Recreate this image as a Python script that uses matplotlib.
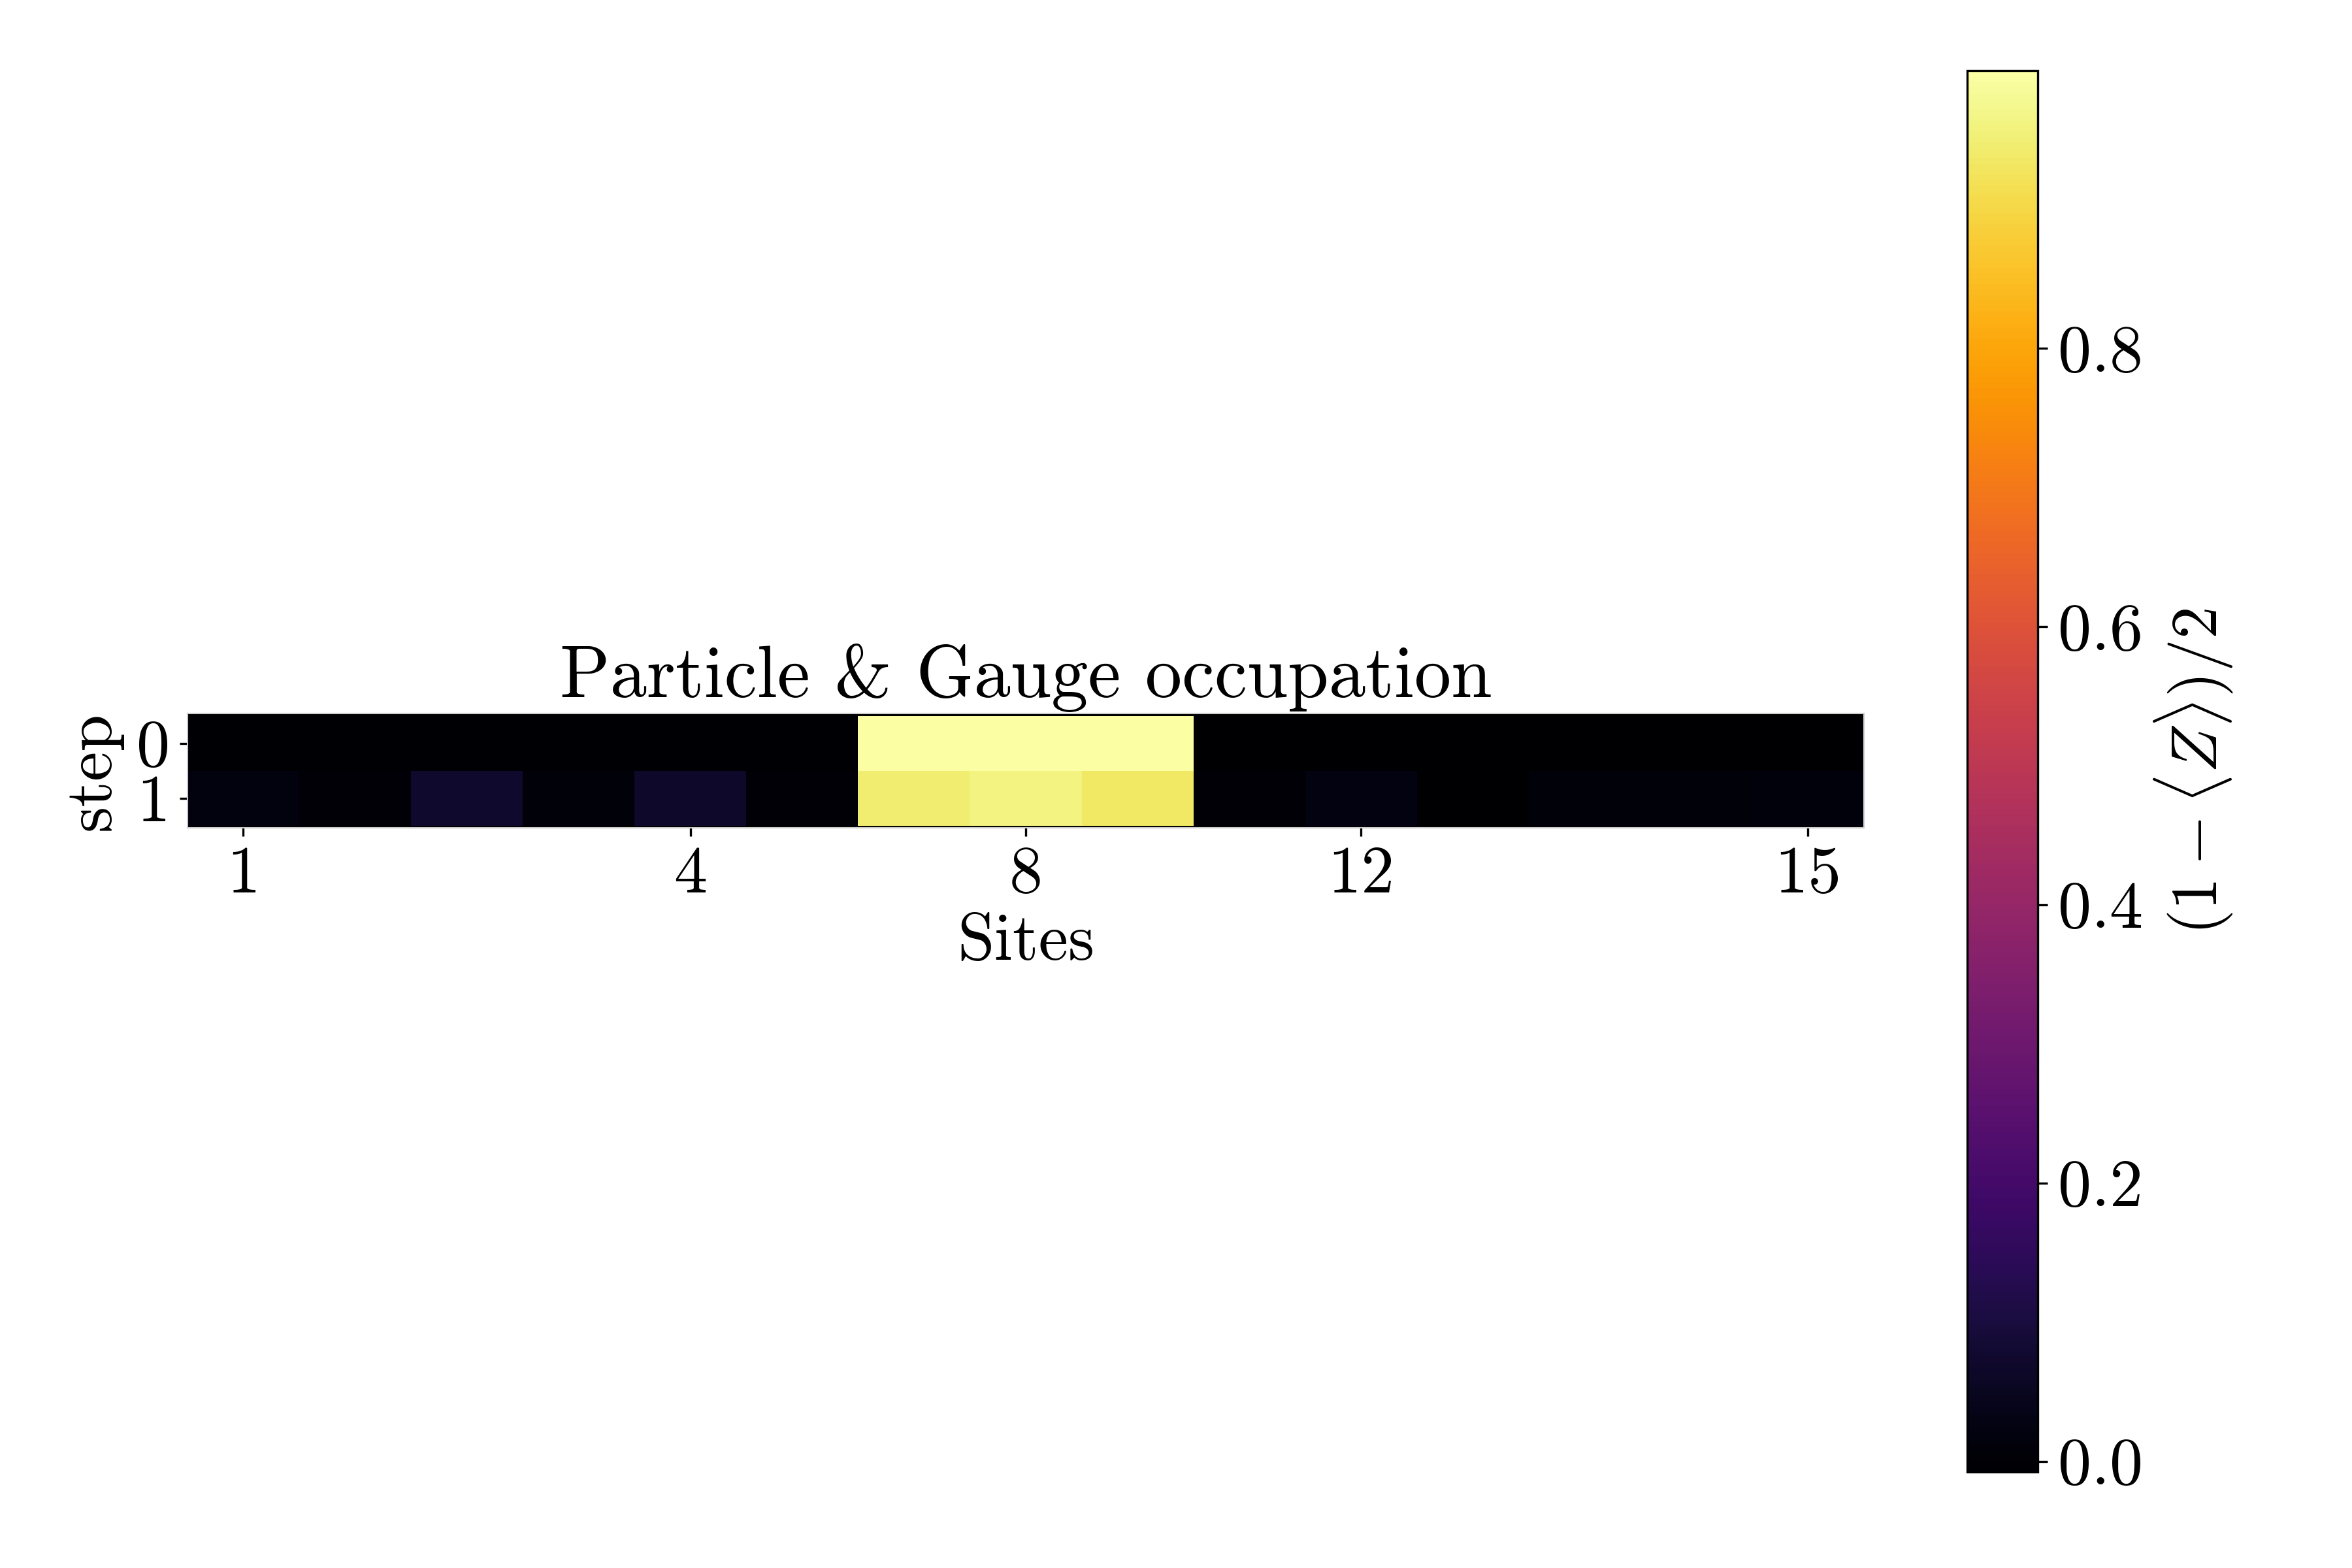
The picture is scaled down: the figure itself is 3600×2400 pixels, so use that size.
import numpy as np
import matplotlib
matplotlib.use("Agg")
import matplotlib.pyplot as plt

plt.rcParams['font.family'] = 'serif'
plt.rcParams['font.serif'] = ['cmr10', 'DejaVu Serif']
plt.rcParams['mathtext.fontset'] = 'cm'
plt.rcParams['axes.unicode_minus'] = False
plt.rcParams['axes.formatter.use_mathtext'] = True

# data: rows = step, columns = sites
steps = [0, 1]
step0 = [0.0, 0.0, 0.0, 0.0, 0.0, 0.0, 0.9995, 0.9995, 0.9995,
         -0.0078, -0.0078, -0.0078, -0.0078, -0.0078, -0.0078]
step1 = [0.018, 0.006, 0.072, 0.008, 0.070, 0.006, 0.945, 0.962, 0.935,
         0.004, 0.022, -0.004, 0.011, 0.011, 0.013]
xtick_pos = [0, 4, 7, 10, 14]
xtick_labels = ['1', '4', '8', '12', '15']
cbar_ticks = [0.0, 0.2, 0.4, 0.6, 0.8]

data = np.array([step0, step1])

fig = plt.figure(figsize=(12, 8), dpi=300)
ax = fig.add_axes([0.0797, 0.4719, 0.7128, 0.0731])
ax.set_facecolor('black')
im = ax.imshow(data, cmap='inferno', aspect='auto', interpolation='nearest')
ax.set_ylim(1.5 + 0.045, -0.5 - 0.045)
for s in ax.spines.values():
    s.set_color('0.8')
    s.set_linewidth(0.5)

ax.set_xticks(xtick_pos)
ax.set_xticklabels(xtick_labels)
ax.set_yticks(steps)
ax.set_yticklabels([str(s) for s in steps])
ax.tick_params(labelsize=24.5, length=3.0)
ax.set_xlabel('Sites', fontsize=24.5, labelpad=3)
ax.set_ylabel('step', fontsize=24.5, labelpad=5)
ax.set_title('Particle & Gauge occupation', fontsize=27)

cax = fig.add_axes([0.8363, 0.0612, 0.0302, 0.8937])
cb = fig.colorbar(im, cax=cax)
cb.set_ticks(cbar_ticks)
cb.ax.tick_params(labelsize=24.5)
cb.set_label(r'$(1-\langle Z\rangle)/2$', fontsize=24, labelpad=4)

fig.savefig('out.png', dpi=300)
